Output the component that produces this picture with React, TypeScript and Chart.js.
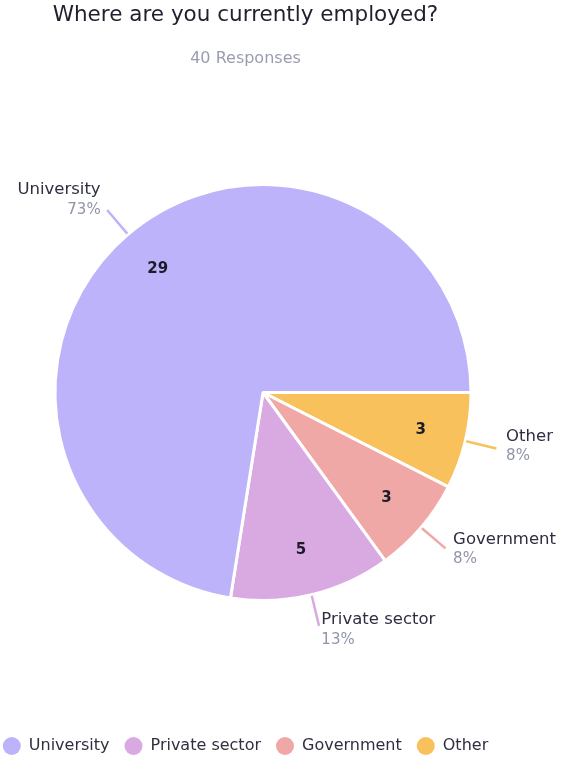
import { useEffect, useRef } from "react";
import { Chart, registerables } from "chart.js";

Chart.register(...registerables);

const TITLE = "Where are you currently employed?";
const SUBTITLE = "40 Responses";
const categories = ["University", "Private sector", "Government", "Other"];
const counts = [29, 5, 3, 3];
const colors = ["#BDB3FB", "#D9A9E2", "#F0A8A6", "#F8C15C"];

const FONT = "'DejaVu Sans', sans-serif";

const pieShift = {
  id: "pieShift",
  afterLayout(chart: any, _args: any, opts: any) {
    const a = chart.chartArea;
    a.left += opts.x;
    a.right += opts.x;
    a.top += opts.y;
    a.bottom += opts.y;
  },
};

const sliceLabels = {
  id: "sliceLabels",
  afterDatasetsDraw(chart: any) {
    const ctx = chart.ctx;
    const meta = chart.getDatasetMeta(0);
    const ds = chart.data.datasets[0];
    const vals = ds.data as number[];
    const labels = chart.data.labels as string[];
    const total = vals.reduce((s, v) => s + v, 0);
    meta.data.forEach((arc: any, i: number) => {
      const { x, y, startAngle, endAngle, outerRadius } = arc.getProps(
        ["x", "y", "startAngle", "endAngle", "outerRadius"],
        true
      );
      const mid = (startAngle + endAngle) / 2;
      const c = Math.cos(mid);
      const s = Math.sin(mid);
      ctx.save();
      // value inside
      ctx.font = `bold 15px ${FONT}`;
      ctx.fillStyle = "#1b1b2a";
      ctx.textAlign = "center";
      ctx.textBaseline = "middle";
      const ri = outerRadius * 0.78;
      ctx.fillText(String(vals[i]), x + c * ri, y + s * ri);
      // leader line
      const r1 = outerRadius + 1;
      const r2 = outerRadius + 32;
      ctx.strokeStyle = ds.backgroundColor[i];
      ctx.lineWidth = 2.5;
      ctx.beginPath();
      ctx.moveTo(x + c * r1, y + s * r1);
      ctx.lineTo(x + c * r2, y + s * r2);
      ctx.stroke();
      const ex = x + c * r2;
      const ey = y + s * r2;
      const tx = ex + 10 * c;
      const cy = ey + 8 * s - 4;
      ctx.textAlign = c >= 0 ? "left" : "right";
      ctx.font = `16.5px ${FONT}`;
      ctx.fillStyle = "#2e2e42";
      ctx.fillText(labels[i], tx, cy - 10);
      ctx.font = `15px ${FONT}`;
      ctx.fillStyle = "#9094aa";
      ctx.fillText(Math.round((vals[i] / total) * 100) + "%", tx, cy + 10);
      ctx.restore();
    });
  },
};

export default function App() {
  const ref = useRef<HTMLCanvasElement>(null);

  useEffect(() => {
    if (!ref.current) return;
    // pie drawn clockwise from 3 o'clock with the last category first
    const order = categories.map((_, i) => categories.length - 1 - i);
    const chart = new Chart(ref.current, {
      type: "pie",
      data: {
        labels: order.map((i) => categories[i]),
        datasets: [
          {
            data: order.map((i) => counts[i]),
            backgroundColor: order.map((i) => colors[i]),
            borderColor: "#ffffff",
            borderWidth: 3,
            hoverOffset: 0,
          } as any,
        ],
      },
      options: {
        animation: false,
        responsive: true,
        maintainAspectRatio: false,
        rotation: 90,
        radius: 208,
        events: [],
        layout: { padding: { left: -20, right: 51, top: 0, bottom: -6 } },
        plugins: {
          tooltip: { enabled: false },
          title: {
            display: true,
            text: TITLE,
            color: "#1f1f2e",
            font: { family: FONT, size: 21.5, weight: "normal" },
            padding: { top: 3, bottom: 10 },
          },
          subtitle: {
            display: true,
            text: SUBTITLE,
            color: "#9a9db0",
            font: { family: FONT, size: 16 },
            padding: { top: 10, bottom: 0 },
          },
          legend: {
            position: "bottom",
            labels: {
              usePointStyle: true,
              pointStyle: "circle",
              pointStyleWidth: 18,
              boxHeight: 12.73,
              padding: 15,
              color: "#2f2f3f",
              font: { family: FONT, size: 16 },
              generateLabels: (ch: any) =>
                (Chart as any).overrides.pie.plugins.legend.labels
                  .generateLabels(ch)
                  .map((l: any) => ({ ...l, lineWidth: 0 }))
                  .sort((a: any, b: any) => b.index - a.index),
            },
          },
          pieShift: { x: 7.5, y: -3 },
        } as any,
      },
      plugins: [pieShift, sliceLabels],
    });
    return () => chart.destroy();
  }, []);

  return (
    <div style={{ position: "absolute", left: 0, top: 0, width: 562, height: 758 }}>
      <canvas ref={ref} />
    </div>
  );
}
